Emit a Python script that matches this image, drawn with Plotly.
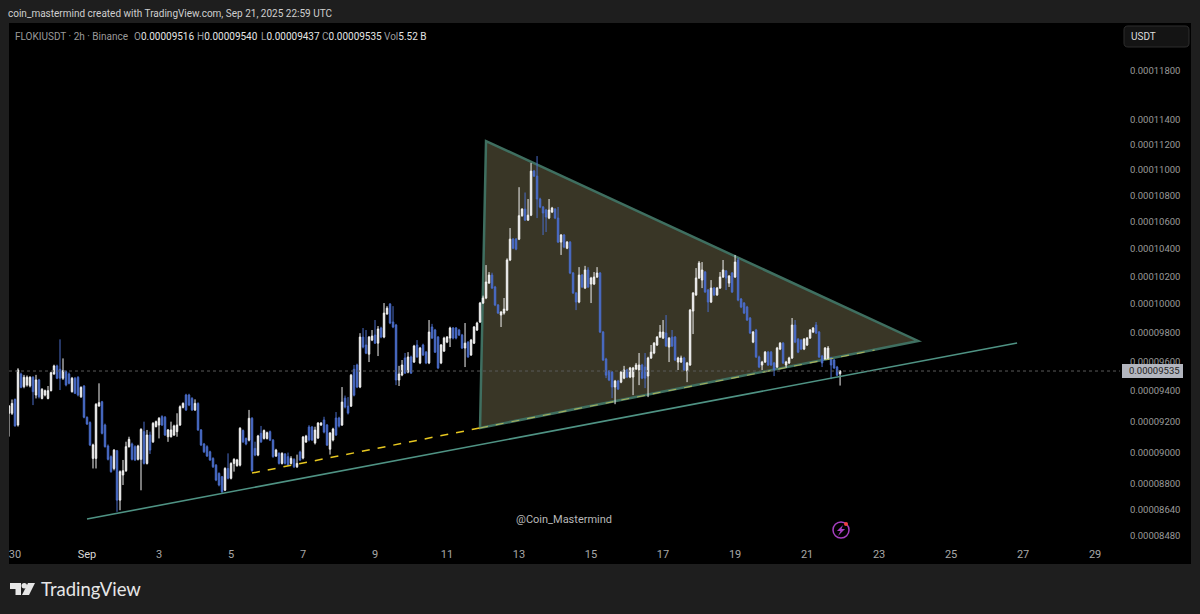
import math
import numpy as np
import pandas as pd
import plotly.graph_objects as go

# =========================
# 0. DATA (prices in units of 1e-8 USDT, 2h candles)
# =========================
PRICE_UNIT = 1e-8
FIRST_CANDLE = "2025-08-29 20:00"

opens = [
    9253,9253,9344,9176,9515,9430,9441,9435,9493,9374,
    9475,9351,9374,9351,9403,9515,9570,9547,9486,9531,
    9515,9396,9486,9493,9362,9434,9227,9192,8961,8961,
    9301,9329,9176,9040,8972,8897,9010,8699,8856,8883,
    9036,9053,9036,8955,8955,9133,8929,9111,9067,9166,
    9176,9231,9227,9100,9100,9111,9133,9176,9292,9374,
    9374,9351,9275,9318,9144,9053,9036,9003,8961,8918,
    8866,8845,8761,8897,8835,8929,8915,8918,9140,9089,
    9078,9220,9025,8982,9122,9089,9089,9133,9078,8976,
    8993,8929,8989,8972,8929,8955,8908,9001,8963,9066,
    9163,9163,9060,9092,9176,9209,9176,9020,9079,9222,
    9222,9176,9353,9300,9300,9547,9576,9427,9768,9713,
    9650,9747,9782,9726,9831,9768,9929,10000,9873,9852,
    9474,9508,9624,9528,9631,9596,9713,9590,9713,9664,
    9590,9838,9817,9768,9590,9671,9733,9761,9831,9831,
    9817,9782,9692,9733,9644,9726,9817,9873,10007,10043,
    10150,10208,10122,9993,9922,9936,9957,10318,10472,10472,
    10472,10648,10698,10615,10652,10991,10952,10775,10714,10691,
    10630,10676,10698,10630,10450,10503,10405,10450,10223,10079,
    10014,10208,10114,10245,10143,10143,10194,10223,9803,9617,
    9535,9528,9427,9467,9460,9487,9542,9494,9494,9549,
    9542,9576,9562,9501,9624,9658,9713,9768,9761,9796,
    9699,9768,9768,9596,9596,9624,9535,9576,9950,10065,
    10187,10172,10230,10100,10014,10114,10065,10114,10194,10238,
    10150,10223,10194,10318,10036,10007,9979,9901,9733,9817,
    9631,9576,9596,9664,9664,9590,9562,9685,9726,9576,
    9590,9624,9852,9754,9747,9685,9713,9761,9803,9852,
    9803,9637,9617,9617,9624,9610,9562,9516,
]
highs = [
    9307,9344,9351,9554,9524,9509,9505,9500,9500,9509,
    9482,9420,9410,9434,9530,9578,9578,9752,9621,9540,
    9525,9495,9495,9500,9432,9440,9232,9200,9055,9320,
    9452,9335,9185,9050,8980,9020,9015,8885,8951,9068,
    9100,9062,9045,9048,9155,9198,9144,9133,9195,9205,
    9228,9240,9235,9150,9198,9178,9253,9305,9325,9382,
    9382,9360,9345,9325,9150,9060,9045,9010,8968,8925,
    8872,8850,8905,8993,8936,8962,8958,9162,9147,9095,
    9275,9228,9068,9112,9170,9147,9133,9140,9085,9022,
    9000,9000,8995,8998,8975,8962,8985,9010,9105,9112,
    9175,9170,9165,9195,9195,9230,9183,9130,9158,9261,
    9230,9427,9370,9360,9515,9576,9585,9795,9831,9817,
    9775,9817,9887,9845,9840,10007,9985,10007,9985,9860,
    9570,9610,9658,9664,9640,9714,9747,9700,9722,9672,
    9887,9860,9825,9775,9720,9770,9775,9840,9838,9838,
    9825,9790,9866,9740,9755,9845,9875,10015,10060,10281,
    10230,10225,10130,10000,9950,10043,10330,10555,10480,10480,
    10866,10705,10825,10775,11055,11000,11109,10785,10722,10700,
    10775,10715,10705,10714,10510,10510,10458,10458,10230,10085,
    10266,10216,10275,10265,10195,10230,10266,10230,9810,9625,
    9542,9535,9475,9475,9535,9570,9550,9563,9563,9590,
    9658,9584,9658,9632,9713,9733,9775,9852,9887,9922,
    9768,9817,9775,9632,9640,9632,9597,9965,10085,10259,
    10310,10303,10238,10108,10172,10122,10122,10230,10318,10245,
    10208,10230,10355,10333,10043,10014,9987,9908,9810,9825,
    9640,9604,9672,9672,9672,9597,9700,9733,9733,9604,
    9632,9901,9887,9761,9754,9761,9768,9824,9838,9873,
    9810,9645,9699,9706,9632,9617,9570,9540,
]
lows = [
    9101,9242,9166,9166,9419,9419,9430,9425,9307,9351,
    9351,9345,9365,9345,9398,9510,9480,9407,9475,9432,
    9445,9390,9380,9365,9355,9220,9176,9040,8897,8897,
    9296,9115,9030,8948,8870,8885,8627,8637,8793,8875,
    9030,8948,8944,8948,8760,8922,8922,8989,9060,9160,
    9089,9170,9105,9067,9095,9105,9100,9170,9285,9268,
    9300,9268,9268,9138,9040,8995,8970,8945,8900,8817,
    8785,8740,8755,8828,8828,8877,8908,8910,9060,9045,
    9070,8877,8975,8975,9060,9082,9082,9072,8965,8970,
    8922,8922,8922,8912,8922,8900,8900,8945,8955,9060,
    9070,9072,9050,9085,9170,9122,9040,8985,9070,9105,
    9160,9170,9285,9245,9295,9365,9420,9420,9690,9650,
    9596,9740,9720,9637,9760,9760,9925,9858,9830,9440,
    9434,9500,9515,9520,9515,9590,9625,9582,9638,9582,
    9582,9755,9658,9548,9582,9665,9726,9699,9752,9752,
    9775,9685,9562,9625,9638,9720,9810,9866,10000,10035,
    10145,10108,9985,9930,9838,9925,9950,10310,10398,10390,
    10465,10640,10608,10608,10645,10945,10630,10705,10503,10525,
    10622,10668,10622,10443,10355,10405,10398,10215,10072,9957,
    10006,10115,10108,10115,10007,10136,10187,9796,9603,9487,
    9467,9353,9313,9407,9453,9480,9487,9487,9373,9542,
    9440,9480,9420,9360,9617,9650,9706,9762,9755,9700,
    9596,9700,9603,9542,9590,9535,9460,9570,9789,10058,
    10180,10114,10080,9943,10007,10058,10058,10108,10187,10100,
    10122,10079,10187,10020,9971,9929,9880,9789,9726,9624,
    9555,9542,9590,9570,9570,9501,9555,9678,9583,9556,
    9583,9617,9726,9657,9678,9678,9706,9755,9796,9789,
    9624,9562,9610,9610,9480,9549,9500,9437,
]
closes = [
    9301,9318,9170,9542,9425,9493,9493,9493,9396,9475,
    9362,9412,9403,9403,9524,9570,9486,9486,9538,9441,
    9452,9486,9385,9374,9425,9227,9183,9047,9047,9312,
    9323,9122,9036,8955,8877,9014,8699,8877,8883,9036,
    9083,8955,8951,9040,9148,8929,9111,9014,9187,9198,
    9220,9176,9111,9144,9144,9170,9176,9296,9318,9275,
    9307,9275,9318,9144,9047,9003,8976,8951,8908,8824,
    8793,8751,8897,8835,8929,8955,8951,9155,9067,9053,
    9220,8883,8982,9105,9067,9140,9126,9078,8972,9014,
    8929,8993,8929,8918,8961,8908,8929,8950,9098,9104,
    9079,9079,9143,9189,9189,9130,9046,9124,9150,9111,
    9169,9327,9294,9254,9507,9373,9427,9768,9699,9657,
    9768,9775,9726,9824,9768,9936,9971,9866,9838,9474,
    9515,9576,9521,9631,9521,9706,9631,9692,9644,9590,
    9803,9761,9664,9556,9713,9761,9768,9831,9761,9761,
    9782,9692,9726,9631,9747,9838,9866,10007,10043,10158,
    10208,10114,9993,9936,9943,9964,10318,10472,10405,10398,
    10648,10698,10615,10652,10991,10952,10775,10714,10668,10638,
    10691,10706,10630,10450,10503,10413,10450,10223,10079,10014,
    10208,10122,10245,10122,10187,10194,10223,9803,9610,9507,
    9474,9427,9467,9414,9528,9542,9494,9556,9556,9576,
    9576,9487,9487,9624,9664,9726,9768,9803,9803,9706,
    9761,9706,9610,9624,9624,9542,9590,9957,10079,10187,
    10296,10245,10086,10014,10114,10065,10114,10194,10245,10187,
    10201,10086,10303,10028,9979,9936,9887,9796,9803,9631,
    9562,9596,9664,9576,9576,9542,9692,9726,9590,9596,
    9624,9852,9733,9664,9685,9754,9761,9817,9831,9796,
    9631,9590,9692,9692,9576,9556,9507,9535,
]

# drawn tools
triangle_t = ["2025-09-12_02:00", "2025-09-24_02:00", "2025-09-11_22:00"]
triangle_p = [11228, 9741, 9157]
support_t = ["2025-09-01 00:00", "2025-09-26 20:00"]
support_p = [8583, 9727]
dashed_t = ["2025-09-05 14:00", "2025-09-11 22:00"]
dashed_p = [8868, 9157]
dashed_inner_t = ["2025-09-11 22:00", "2025-09-22 21:00"]
dashed_inner_p = [9157, 9678]

x_tick_dates = ["2025-08-30", "2025-09-01", "2025-09-03", "2025-09-05", "2025-09-07", "2025-09-09",
                "2025-09-11", "2025-09-13", "2025-09-15", "2025-09-17", "2025-09-19", "2025-09-21",
                "2025-09-23", "2025-09-25", "2025-09-27", "2025-09-29"]
x_tick_labels = ["30", "<span style='color:#d8d8d8'>Sep</span>", "3", "5", "7", "9", "11", "13",
                 "15", "17", "19", "21", "23", "25", "27", "29"]
y_tick_labels = ["0.00011800", "0.00011400", "0.00011200", "0.00011000", "0.00010800", "0.00010600",
                 "0.00010400", "0.00010200", "0.00010000", "0.00009800", "0.00009600", "0.00009400",
                 "0.00009200", "0.00009000", "0.00008800", "0.00008640", "0.00008480"]
LAST_PRICE = "0.00009535"

# =========================
# 1. CONFIG
# =========================
W, H = 1200, 614
PL, PR, PT, PB = 9, 1120, 23, 540   # plot box in pixels
BG = "#1e1e1e"
UP = "#f2f2f2"
DOWN = "#4a6cc8"
GRAY = "#9a9a9a"
FONT = "Roboto"


def px(x):
    return (x - PL) / (PR - PL)


def py(y):
    return (PB - y) / (PB - PT)


def text(x, y, s, size=10, color=GRAY, anchor="left", family=FONT, **kw):
    # annotations carry about 2px of padding on the left
    return dict(x=px(x - 2), y=py(y), xref="paper", yref="paper", text=s, showarrow=False,
                xanchor=anchor, yanchor="middle", font=dict(size=size, color=color, family=family), **kw)


def pbox(x0, y0, x1, y1, **kw):
    return dict(type="rect", xref="paper", yref="paper", x0=px(x0), y0=py(y0), x1=px(x1), y1=py(y1), **kw)


def ppath(points, **kw):
    # closed polygon given in pixels
    d = "M " + " L ".join(f"{px(a):.5f},{py(b):.5f}" for a, b in points) + " Z"
    return dict(type="path", xref="paper", yref="paper", path=d, **kw)


def round_rect(x0, y0, x1, y1, r, **kw):
    a, b, c, d = px(x0), py(y0), px(x1), py(y1)
    rx, ry = r / (PR - PL), r / (PB - PT)
    path = (f"M {a+rx:.5f},{b:.5f} L {c-rx:.5f},{b:.5f} Q {c:.5f},{b:.5f} {c:.5f},{b-ry:.5f} "
            f"L {c:.5f},{d+ry:.5f} Q {c:.5f},{d:.5f} {c-rx:.5f},{d:.5f} L {a+rx:.5f},{d:.5f} "
            f"Q {a:.5f},{d:.5f} {a:.5f},{d+ry:.5f} L {a:.5f},{b-ry:.5f} Q {a:.5f},{b:.5f} {a+rx:.5f},{b:.5f} Z")
    return dict(type="path", xref="paper", yref="paper", path=path, **kw)


times = pd.date_range(FIRST_CANDLE, periods=len(opens), freq="2h")
unit = lambda v: (np.array(v) * PRICE_UNIT).tolist()

# =========================
# 2. TRACES
# =========================
fig = go.Figure()

fig.add_trace(go.Candlestick(
    x=times, open=unit(opens), high=unit(highs), low=unit(lows), close=unit(closes),
    increasing=dict(line=dict(color=UP, width=1), fillcolor=UP),
    decreasing=dict(line=dict(color=DOWN, width=1), fillcolor=DOWN),
    whiskerwidth=0, showlegend=False,
))
fig.add_trace(go.Scatter(x=support_t, y=unit(support_p), mode="lines", showlegend=False,
                         line=dict(color="#4f9384", width=1.6)))
fig.add_trace(go.Scatter(x=dashed_t, y=unit(dashed_p), mode="lines", showlegend=False,
                         line=dict(color="#e8c820", width=1.5, dash="8px,8px")))
fig.add_trace(go.Scatter(x=dashed_inner_t, y=unit(dashed_inner_p), mode="lines", showlegend=False,
                         line=dict(color="#a9b25c", width=1.1, dash="8px,8px")))

# =========================
# 3. SHAPES
# =========================
tri = " L ".join(f"{t},{p * PRICE_UNIT:.10f}" for t, p in zip(triangle_t, triangle_p))
shapes = [
    pbox(PL, PT, 1191, 564, fillcolor="#000000", line_width=0, layer="below"),
    dict(type="path", xref="x", yref="y", path=f"M {tri} Z", layer="below",
         fillcolor="#393626", line=dict(color="#3f6f60", width=2.5)),
    dict(type="line", xref="paper", yref="y", x0=0, x1=1, y0=float(LAST_PRICE), y1=float(LAST_PRICE),
         line=dict(color="#5a5a5a", width=1, dash="dot")),
    round_rect(1124, 26, 1189, 47, 4, fillcolor="#141414", line=dict(color="#2e2e2e", width=1)),
    pbox(1122, 364, 1183, 378, fillcolor="#b2b5be", line_width=0),
    # purple badge
    dict(type="circle", xref="paper", yref="paper", x0=px(833), y0=py(522), x1=px(849), y1=py(538),
         fillcolor="rgba(0,0,0,0)", line=dict(color="#a63fc0", width=1.5)),
    ppath([(843, 525), (837, 531), (840.5, 531), (838, 536), (845, 529), (841.5, 529)],
          fillcolor="#a63fc0", line_width=0),
    dict(type="circle", xref="paper", yref="paper", x0=px(844), y0=py(522), x1=px(848), y1=py(526),
         fillcolor="#f04040", line_width=0),
    # TradingView logo
    ppath([(10, 583), (21, 583), (21, 595), (15.5, 595), (15.5, 589), (10, 589)], fillcolor="#e6e6e6", line_width=0),
    dict(type="circle", xref="paper", yref="paper", x0=px(21.5), y0=py(583), x1=px(27), y1=py(588.5),
         fillcolor="#e6e6e6", line_width=0),
    ppath([(28, 583), (35, 583), (29, 595), (22, 595)], fillcolor="#e6e6e6", line_width=0),
]

# =========================
# 4. TEXTS
# =========================
white = "<span style='color:#e4e4e4'>%s</span>"
annotations = [
    text(8, 13, "coin_mastermind created with TradingView.com, Sep 21, 2025 22:59 UTC", color="#cfcfcf"),
    text(15, 36, "FLOKIUSDT · 2h · Binance"),
    text(134, 36, "O" + white % "0.00009516"),
    text(197, 36, "H" + white % "0.00009540"),
    text(261, 36, "L" + white % "0.00009437"),
    text(322, 36, "C" + white % "0.00009535"),
    text(384, 36, "Vol" + white % "5.52 B"),
    text(1131, 36.5, "USDT", size=10, color="#dddddd"),
    text(1129, 371, LAST_PRICE, size=9.5, color="#222222"),
    text(516, 519, "@Coin_Mastermind", size=11, color="#b8b8b8"),
    text(41, 589, "TradingView", size=18.5, color="#e6e6e6", family="Lato"),
]

# =========================
# 5. LAYOUT
# =========================
y_range = [math.log10(8456 * PRICE_UNIT), math.log10(12211 * PRICE_UNIT)]
x_range = ["2025-08-29 20:00", "2025-09-29 16:36"]

fig.update_layout(
    width=W, height=H,
    margin=dict(l=PL, r=W - PR, t=PT, b=H - PB, pad=0),
    paper_bgcolor=BG, plot_bgcolor="rgba(0,0,0,0)",
    font=dict(family=FONT, size=10, color=GRAY),
    showlegend=False, hovermode=False,
    shapes=shapes, annotations=annotations,
)
fig.update_xaxes(
    type="date", range=x_range, rangeslider_visible=False, showgrid=False, zeroline=False, showline=False,
    tickmode="array", tickvals=x_tick_dates, ticktext=x_tick_labels,
    ticks="outside", ticklen=4, tickcolor="rgba(0,0,0,0)", tickfont=dict(size=11, color="#a8a8a8"),
)
fig.update_yaxes(
    type="log", range=y_range, side="right", showgrid=False, zeroline=False, showline=False,
    tickmode="array", tickvals=[float(s) for s in y_tick_labels], ticktext=y_tick_labels,
    ticks="outside", ticklen=7, tickcolor="rgba(0,0,0,0)", tickfont=dict(size=9.5, color=GRAY),
)

fig.write_html("out.html", config=dict(displayModeBar=False),
               post_script="document.body.style.margin='0';document.body.style.background='%s';" % BG)
